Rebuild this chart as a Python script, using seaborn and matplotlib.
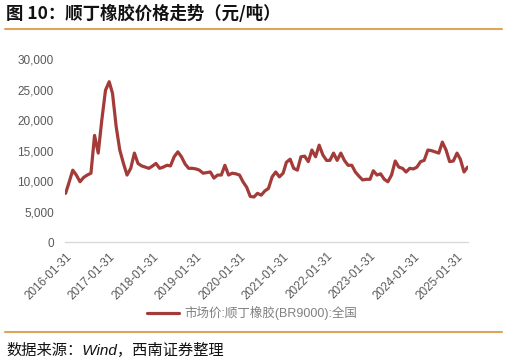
import pandas as pd
import numpy as np
import seaborn as sns
import matplotlib.pyplot as plt
from matplotlib.lines import Line2D

# monthly price, 元/吨
v2016 = [8000, 9800, 11800, 11000, 9900, 10600, 11000, 11300, 17500, 14600, 20000, 24900]
v2017 = [26300, 24400, 18900, 15100, 12900, 11000, 12100, 14600, 12900, 12500, 12300, 12100]
v2018 = [12500, 12900, 12100, 12300, 12600, 12500, 14000, 14800, 14000, 12800, 12100, 12100]
v2019 = [12000, 11800, 11300, 11400, 11500, 10500, 11000, 11000, 12600, 11000, 11300, 11200]
v2020 = [11000, 9900, 9000, 7500, 7400, 8000, 7700, 8400, 8800, 10700, 11500, 10700]
v2021 = [11300, 13100, 13600, 12100, 11800, 14000, 14100, 13200, 15100, 14000, 15900, 14300]
v2022 = [13400, 13400, 14600, 13400, 14600, 13400, 12600, 12600, 11500, 10800, 10200, 10300]
v2023 = [10300, 11700, 11000, 11200, 10300, 9900, 11000, 13300, 12300, 12100, 11500, 12100]
v2024 = [12000, 12300, 13200, 13400, 15100, 15000, 14800, 14600, 16400, 15100, 13200, 13300]
v2025 = [14600, 13600, 11500, 12300]

prices = v2016 + v2017 + v2018 + v2019 + v2020 + v2021 + v2022 + v2023 + v2024 + v2025
dates = pd.date_range('2016-01-31', periods=len(prices), freq='ME')
tick_dates = pd.to_datetime([f'{y}-01-31' for y in range(2016, 2026)])
series_name = '市场价:顺丁橡胶(BR9000):全国'

df = pd.DataFrame({'date': dates, 'price': prices, 'series': series_name})

sns.set_style('white')
plt.rcParams['font.family'] = ['Liberation Sans', 'Noto Sans CJK SC', 'DejaVu Sans']

fig = plt.figure(figsize=(5.07, 3.63), dpi=100)
ax = fig.add_axes([0.128, 0.333, 0.795, 0.504])

sns.lineplot(data=df, x='date', y='price', hue='series', palette=['#A33B39'],
             linewidth=2.3, ax=ax, legend=False)

ax.set_ylim(0, 30000)
ax.set_xlim(pd.Timestamp('2016-01-25'), pd.Timestamp('2025-05-03'))
ax.set_yticks(range(0, 30001, 5000))
ax.set_yticklabels([f'{v:,}' for v in range(0, 30001, 5000)])
ax.set_xticks(tick_dates)
ax.set_xticklabels([d.strftime('%Y-%m-%d') for d in tick_dates],
                   rotation=45, ha='right', rotation_mode='anchor')
ax.set_xlabel('')
ax.set_ylabel('')

for s in ['top', 'right', 'left']:
    ax.spines[s].set_visible(False)
ax.spines['bottom'].set_color('#D9D9D9')
ax.spines['bottom'].set_linewidth(1.0)
ax.tick_params(axis='x', colors='#D9D9D9', length=4, width=1, labelcolor='#595959',
               labelsize=8.5, pad=2)
ax.tick_params(axis='y', length=0, labelcolor='#595959', labelsize=8.5, pad=8)

# legend below the axis
handle = Line2D([], [], color='#A33B39', linewidth=2.3)
fig.legend([handle], [series_name], loc='center', bbox_to_anchor=(0.497, 0.138),
           frameon=False, fontsize=9, labelcolor='#808080', handlelength=2.6,
           handletextpad=0.4)

fig.text(0.012, 0.962, '图 10：顺丁橡胶价格走势（元/吨）', fontsize=12.5, fontweight='bold',
         family=['Noto Sans CJK SC'], va='center', ha='left', color='#111111')
fig.text(0.012, 0.035, '数据来源：Wind，西南证券整理', fontsize=11, style='italic',
         family=['Liberation Sans', 'Noto Sans CJK SC'], va='center', ha='left', color='#111111')

for yy in [1 - 29 / 363, 1 - 332 / 363]:
    fig.add_artist(Line2D([0.01, 0.99], [yy, yy], transform=fig.transFigure,
                          color='#E0A458', linewidth=1.5))

fig.savefig('out.png', dpi=100)
